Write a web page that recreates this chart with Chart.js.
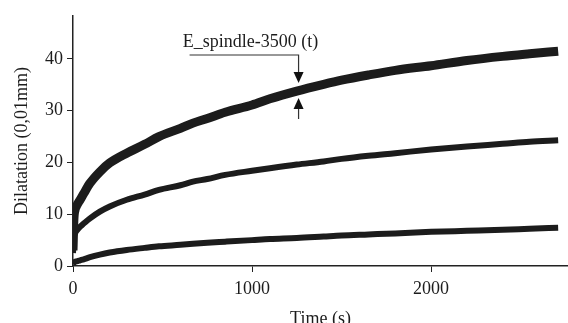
<!DOCTYPE html>
<html>
<head>
<meta charset="utf-8">
<script src="https://cdn.jsdelivr.net/npm/chart.js@4/dist/chart.umd.min.js"></script>
<style>
  html, body { margin: 0; padding: 0; background: #fff; overflow: hidden; }
  #wrap { width: 568px; height: 323px; overflow: hidden; }
</style>
</head>
<body>
<div id="wrap"><canvas id="myChart" width="568" height="330"></canvas></div>
<script>
// time (s) of the read-off points
const times = [0, 5, 11, 20, 40, 60, 95, 150, 205, 300, 400, 480, 600, 670, 750, 850,
  1000, 1100, 1250, 1400, 1500, 1650, 1800, 2000, 2200, 2400, 2550, 2710];
// dilatation (0,01mm), three runs
const upper = [3, 9, 10.8, 11.6, 12.8, 14, 16, 18.2, 19.9, 21.8, 23.5, 25, 26.6, 27.6, 28.5, 29.7,
  31.1, 32.3, 33.8, 35.1, 35.9, 36.9, 37.8, 38.7, 39.7, 40.5, 41, 41.5];
const middle = [2.5, 5.5, 6.3, 6.8, 7.6, 8.2, 9.2, 10.5, 11.5, 12.8, 13.8, 14.7, 15.6, 16.3, 16.8, 17.6,
  18.4, 18.9, 19.6, 20.2, 20.7, 21.3, 21.8, 22.5, 23.1, 23.6, 24, 24.3];
const lower = [0.3, 0.7, 0.8, 0.9, 1.1, 1.3, 1.7, 2.2, 2.6, 3.1, 3.5, 3.8, 4.1, 4.3, 4.5, 4.7,
  5.0, 5.2, 5.4, 5.7, 5.9, 6.1, 6.3, 6.6, 6.8, 7.0, 7.2, 7.4];
const xTicks = [0, 1000, 2000];
const yTicks = [0, 10, 20, 30, 40];
const annotLabel = 'E_spindle-3500 (t)';
const annotAt = {x: 1260, y: 34.2};

const SERIF = '"Liberation Serif", "DejaVu Serif", serif';
const INK = '#1c1c1c';

function series(vals) {
  return times.map((t, i) => ({x: t, y: vals[i]}));
}

// callout with the two arrows pointing at the upper curve
const callout = {
  id: 'callout',
  afterDatasetsDraw(chart) {
    const c = chart.ctx;
    const px = chart.scales.x.getPixelForValue(annotAt.x);
    const py = chart.scales.y.getPixelForValue(annotAt.y);
    c.save();
    c.strokeStyle = '#333';
    c.fillStyle = '#111';
    c.lineWidth = 1.2;
    c.beginPath();
    c.moveTo(px - 109, py - 34);
    c.lineTo(px, py - 34);
    c.lineTo(px, py - 12);
    c.moveTo(px, py + 14);
    c.lineTo(px, py + 30);
    c.stroke();
    // down arrow
    c.beginPath();
    c.moveTo(px - 5, py - 17);
    c.lineTo(px + 5, py - 17);
    c.lineTo(px, py - 6);
    c.closePath();
    c.fill();
    // up arrow
    c.beginPath();
    c.moveTo(px - 5, py + 20);
    c.lineTo(px + 5, py + 20);
    c.lineTo(px, py + 9);
    c.closePath();
    c.fill();
    c.font = '18px ' + SERIF;
    c.fillStyle = INK;
    c.textAlign = 'center';
    c.textBaseline = 'alphabetic';
    c.fillText(annotLabel, px - 48, py - 42);
    c.restore();
  }
};

const lineStyle = (w) => ({
  borderColor: INK,
  borderWidth: w,
  pointRadius: 0,
  cubicInterpolationMode: 'monotone',
  fill: false
});

const tickFont = {family: SERIF, size: 18};

const config = {
  type: 'line',
  data: {
    datasets: [
      Object.assign({label: 'upper', data: series(upper)}, lineStyle(9)),
      Object.assign({label: 'middle', data: series(middle)}, lineStyle(6)),
      Object.assign({label: 'lower', data: series(lower)}, lineStyle(6))
    ]
  },
  options: {
    responsive: false,
    animation: false,
    layout: { padding: {left: 0, right: 0, top: 16, bottom: 0} },
    plugins: {
      legend: { display: false },
      tooltip: { enabled: false }
    },
    scales: {
      x: {
        type: 'linear',
        min: 0,
        max: 2765,
        afterFit(scale) { scale.height = 64; },
        afterBuildTicks(scale) { scale.ticks = xTicks.map(v => ({value: v})); },
        border: { display: true, color: '#222', width: 1.5 },
        grid: { drawOnChartArea: false, drawTicks: true, tickLength: 6, color: '#222' },
        ticks: { color: INK, font: tickFont, padding: 6, callback: v => String(v) },
        title: { display: true, text: 'Time (s)', color: INK, font: tickFont, padding: {top: 0, bottom: 0} }
      },
      y: {
        type: 'linear',
        min: 0,
        max: 48.3,
        afterFit(scale) { scale.width = 73; },
        afterBuildTicks(scale) { scale.ticks = yTicks.map(v => ({value: v})); },
        border: { display: true, color: '#222', width: 1.5 },
        grid: { drawOnChartArea: false, drawTicks: true, tickLength: 6, color: '#222' },
        ticks: { color: INK, font: tickFont, padding: 4, callback: v => String(v) },
        title: { display: true, text: 'Dilatation (0,01mm)', color: INK, font: tickFont, padding: {top: 11, bottom: 4} }
      }
    }
  },
  plugins: [callout]
};

new Chart(document.getElementById('myChart'), config);
</script>
</body>
</html>
